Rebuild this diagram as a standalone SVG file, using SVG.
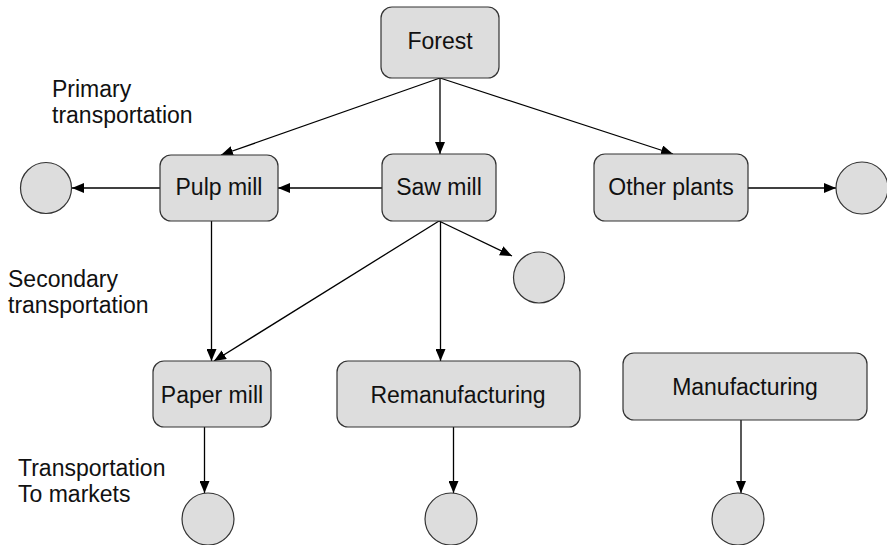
<svg xmlns="http://www.w3.org/2000/svg" width="887" height="545" viewBox="0 0 887 545">
<style>
.box{fill:#dddddd;stroke:#333333;stroke-width:1.2}
.end{fill:#dddddd;stroke:#333333;stroke-width:1.2}
.t{font-family:"Liberation Sans",Arial,sans-serif;font-size:23px;fill:#111111}
.c{text-anchor:middle}
.e{stroke:#000000;stroke-width:1.3;fill:none;marker-end:url(#ah)}
</style>
<defs>
<marker id="ah" markerUnits="userSpaceOnUse" markerWidth="12" markerHeight="10" viewBox="0 0 12 10" refX="12" refY="5" orient="auto">
<path d="M0,0 L12,5 L0,10 Z" fill="#000000"/>
</marker>
</defs>
<rect width="887" height="545" fill="#ffffff"/>
<g id="connectors">
<line class="e" x1="440" y1="78" x2="221" y2="155"/>
<line class="e" x1="440" y1="78" x2="440" y2="154"/>
<line class="e" x1="440" y1="78" x2="673" y2="154"/>
<line class="e" x1="382" y1="188" x2="278" y2="188"/>
<line class="e" x1="160" y1="188" x2="72" y2="188"/>
<line class="e" x1="748" y1="188" x2="836" y2="188"/>
<line class="e" x1="211.5" y1="221" x2="211.5" y2="361"/>
<line class="e" x1="439" y1="221" x2="214" y2="361"/>
<line class="e" x1="439" y1="221" x2="512" y2="256"/>
<line class="e" x1="440.5" y1="221" x2="440.5" y2="361"/>
<line class="e" x1="204.5" y1="427" x2="204.5" y2="493"/>
<line class="e" x1="453.5" y1="427" x2="453.5" y2="493"/>
<line class="e" x1="741" y1="420" x2="741" y2="493"/>
</g>
<g id="forest"><rect class="box" x="381" y="7" width="118" height="71" rx="11"/><text class="t c" x="440" y="49">Forest</text></g>
<g id="pulp-mill"><rect class="box" x="160" y="155" width="118" height="66" rx="11"/><text class="t c" x="219" y="195">Pulp mill</text></g>
<g id="saw-mill"><rect class="box" x="382" y="154" width="114" height="67" rx="11"/><text class="t c" x="439" y="195">Saw mill</text></g>
<g id="other-plants"><rect class="box" x="594" y="154" width="154" height="67" rx="11"/><text class="t c" x="671" y="195">Other plants</text></g>
<g id="paper-mill"><rect class="box" x="153" y="361" width="118" height="66" rx="11"/><text class="t c" x="212" y="403">Paper mill</text></g>
<g id="remanufacturing"><rect class="box" x="337" y="361" width="243" height="66" rx="11"/><text class="t c" x="458" y="403">Remanufacturing</text></g>
<g id="manufacturing"><rect class="box" x="623" y="353" width="244" height="67" rx="11"/><text class="t c" x="745" y="395">Manufacturing</text></g>
<g id="end-pulp"><circle class="end" cx="46" cy="188" r="25.5"/></g>
<g id="end-other"><circle class="end" cx="862" cy="188" r="26"/></g>
<g id="end-saw"><circle class="end" cx="539" cy="277.5" r="25.5"/></g>
<g id="end-paper"><circle class="end" cx="208" cy="519" r="26"/></g>
<g id="end-reman"><circle class="end" cx="451" cy="519" r="26"/></g>
<g id="end-manu"><circle class="end" cx="738" cy="519" r="26"/></g>
<g id="labels">
<text class="t" x="52" y="97">Primary</text>
<text class="t" x="52" y="123">transportation</text>
<text class="t" x="8" y="287">Secondary</text>
<text class="t" x="8" y="313">transportation</text>
<text class="t" x="18" y="476">Transportation</text>
<text class="t" x="18" y="502">To markets</text>
</g>
</svg>
